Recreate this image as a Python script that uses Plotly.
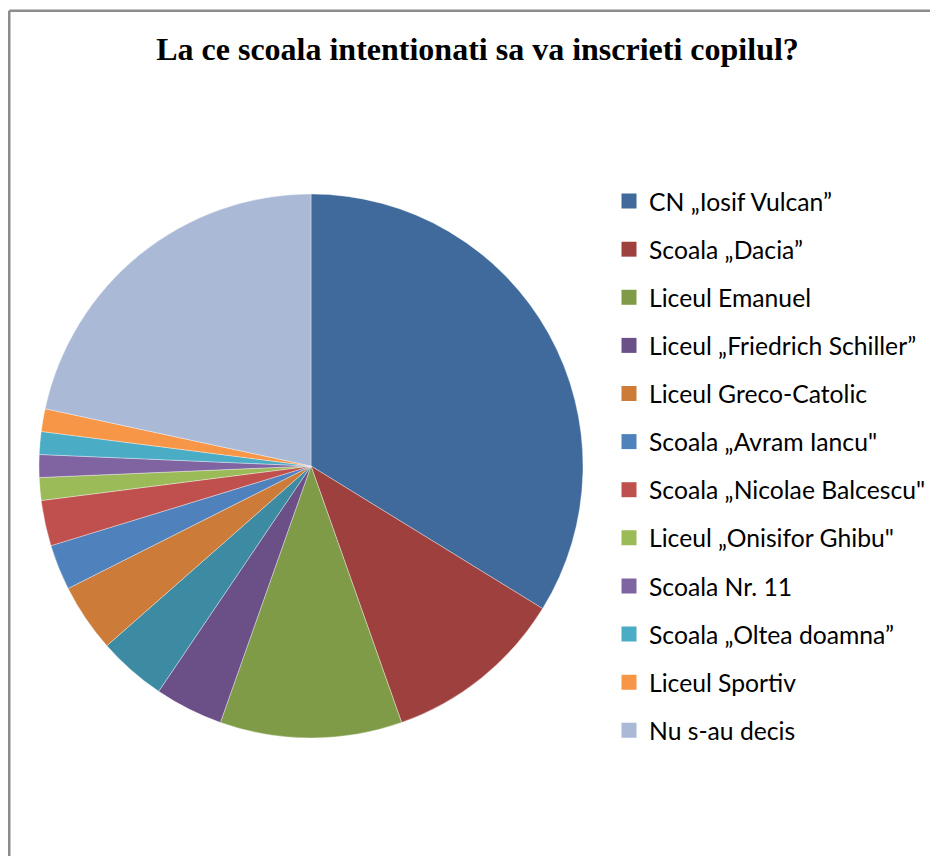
import plotly.graph_objects as go

# ---- data ----
categories = [
    "CN „Iosif Vulcan”",
    "Scoala „Dacia”",
    "Liceul Emanuel",
    "Liceul „Friedrich Schiller”",
    "",  # slice without legend entry in the original
    "Liceul Greco-Catolic",
    "Scoala „Avram Iancu\"",
    "Scoala „Nicolae Balcescu\"",
    "Liceul „Onisifor Ghibu\"",
    "Scoala Nr. 11",
    "Scoala „Oltea doamna”",
    "Liceul Sportiv",
    "Nu s-au decis",
]
values = [25, 8, 8, 3, 3, 3, 2, 2, 1, 1, 1, 1, 16]
colors = [
    "#3F6A9B", "#9E413E", "#7F9B48", "#6A5087", "#3C8BA3", "#CC7B38",
    "#4F81BD", "#C0504D", "#9BBB59", "#8064A2", "#4BACC6", "#F79646",
    "#A9B9D6",
]
title_text = "La ce scoala intentionati sa va inscrieti copilul?"

OFF = 8  # page body margin offset
W, H = 938 - OFF, 856 - OFF
cx, cy, r = 311 - OFF, 466 - OFF, 272

fig = go.Figure()
fig.add_trace(go.Pie(
    labels=[c if c else " " for c in categories],
    values=values,
    sort=False,
    direction="clockwise",
    rotation=0,
    marker=dict(colors=colors, line=dict(color="rgba(255,255,255,0.6)", width=0.6)),
    textinfo="none",
    hoverinfo="label+value+percent",
    showlegend=False,
    domain=dict(x=[(cx - r) / W, (cx + r) / W], y=[1 - (cy + r) / H, 1 - (cy - r) / H]),
))

# legend entries (the unlabeled slice has none)
for i, (name, col) in enumerate(zip(categories, colors)):
    if not name:
        continue
    fig.add_trace(go.Scatter(
        x=[None], y=[None], mode="markers", name=name,
        marker=dict(symbol="square", size=15, color=col),
        legendgroup=f"g{i}", showlegend=True, hoverinfo="skip",
    ))

fig.update_layout(
    width=W, height=H,
    margin=dict(l=0, r=0, t=0, b=0),
    paper_bgcolor="white", plot_bgcolor="white",
    xaxis=dict(visible=False), yaxis=dict(visible=False),
    title=dict(
        text=f"<b>{title_text}</b>",
        font=dict(family="Liberation Serif, Times New Roman, serif", size=32, color="black"),
        x=(477.5 - OFF) / W, xanchor="center", y=1 - (49 - OFF) / H, yanchor="middle",
    ),
    legend=dict(
        x=(609 - OFF) / W, xanchor="left", y=1 - (178.5 - OFF) / H, yanchor="top",
        font=dict(family="Lato, Calibri, sans-serif", size=24.7, color="black"),
        tracegroupgap=13, itemsizing="trace", bgcolor="rgba(0,0,0,0)",
    ),
    shapes=[
        dict(type="line", xref="paper", yref="paper", x0=1.25 / W, x1=1, y0=1 - 2.75 / H, y1=1 - 2.75 / H,
             line=dict(color="#8C8C8C", width=2.5)),
        dict(type="line", xref="paper", yref="paper", x0=1.25 / W, x1=1.25 / W, y0=0, y1=1 - 2.75 / H,
             line=dict(color="#8C8C8C", width=2.5)),
    ],
)

fig.write_html("out.html")
